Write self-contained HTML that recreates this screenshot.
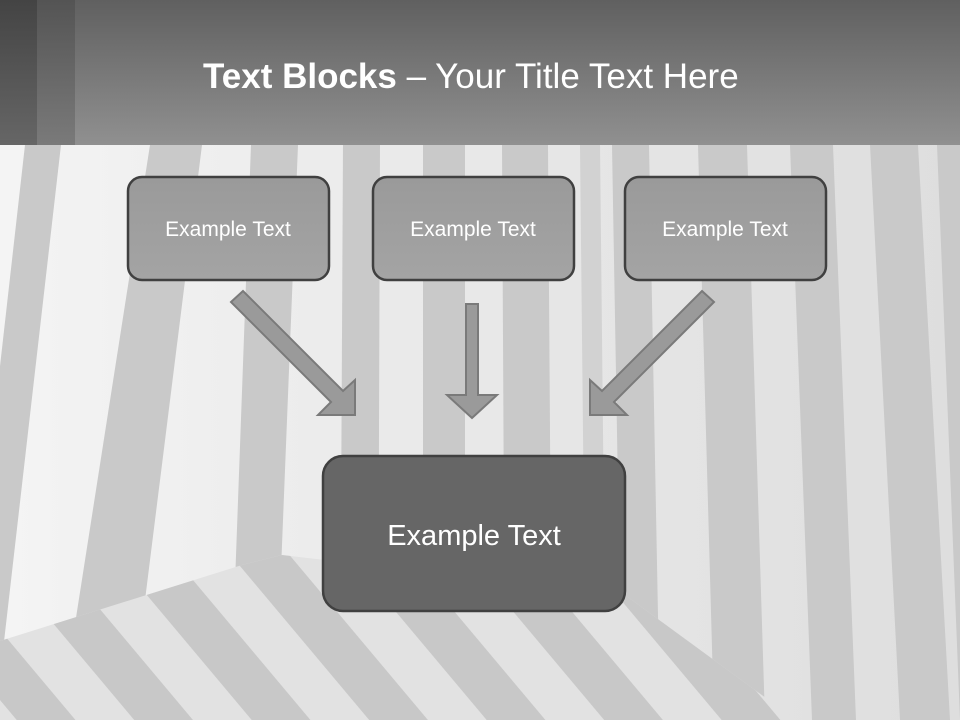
<!DOCTYPE html>
<html><head><meta charset="utf-8"><style>
html,body{margin:0;padding:0;}
body{width:960px;height:720px;overflow:hidden;position:relative;font-family:"Liberation Sans",sans-serif;}
svg{position:absolute;left:0;top:0;}
</style></head><body>
<svg width="960" height="720" viewBox="0 0 960 720">
<defs>
<linearGradient id="hdr" x1="0" y1="0" x2="0" y2="1"><stop offset="0" stop-color="#606060"/><stop offset="1" stop-color="#909090"/></linearGradient>
<linearGradient id="hd1" x1="0" y1="0" x2="0" y2="1"><stop offset="0" stop-color="#444"/><stop offset="1" stop-color="#666"/></linearGradient>
<linearGradient id="hd2" x1="0" y1="0" x2="0" y2="1"><stop offset="0" stop-color="#545454"/><stop offset="1" stop-color="#7a7a7a"/></linearGradient>
<linearGradient id="wall" x1="0" y1="0" x2="1" y2="0"><stop offset="0" stop-color="#f4f4f4"/><stop offset="0.5" stop-color="#e8e8e8"/><stop offset="1" stop-color="#dedede"/></linearGradient>
<linearGradient id="box" x1="0" y1="0" x2="0" y2="1"><stop offset="0" stop-color="#9a9a9a"/><stop offset="1" stop-color="#a4a4a4"/></linearGradient>
<clipPath id="floor"><polygon points="0,641 242,565 282,555 625,595 796,720 0,720"/></clipPath>
<pattern id="fs" width="90" height="90" patternUnits="userSpaceOnUse" patternTransform="rotate(-40)"><rect width="45" height="90" fill="#c8c8c8"/></pattern>
</defs>
<rect width="960" height="720" fill="url(#wall)"/>
<g fill="#c9c9c9">
<polygon points="25,145 61,145 -5,720 -40,720"/>
<polygon points="150,145 202,145 130,720 60,720"/>
<polygon points="251,145 298,145 275,720 230,720"/>
<polygon points="343,145 380,145 378,720 340,720"/>
<polygon points="423,145 465,145 465,720 423,720"/>
<polygon points="502,145 548,145 552,720 505,720"/>
<polygon points="580,145 600,145 606,720 586,720" fill="#d2d2d2"/>
<polygon points="612,145 649,145 660,720 622,720"/>
<polygon points="698,145 747,145 765,720 714,720"/>
<polygon points="790,145 833,145 856,720 812,720"/>
<polygon points="870,145 918,145 950,720 900,720"/>
<polygon points="937,145 960,145 960,720 960,720"/>
</g>
<g clip-path="url(#floor)">
<rect x="0" y="540" width="800" height="180" fill="#e2e2e2"/>
<rect x="0" y="540" width="800" height="180" fill="url(#fs)"/>
</g>
<rect x="0" y="0" width="960" height="145" fill="url(#hdr)"/>
<rect x="0" y="0" width="37" height="145" fill="url(#hd1)"/>
<rect x="37" y="0" width="38" height="145" fill="url(#hd2)"/>
<text x="203" y="88" fill="#fff" font-size="35" font-family="Liberation Sans, sans-serif"><tspan font-weight="bold">Text Blocks</tspan> – Your Title Text Here</text>

<g stroke="#404040" stroke-width="2.5">
<rect x="128" y="177" width="201" height="103" rx="14" fill="url(#box)"/>
<rect x="373" y="177" width="201" height="103" rx="14" fill="url(#box)"/>
<rect x="625" y="177" width="201" height="103" rx="14" fill="url(#box)"/>
<rect x="323" y="456" width="302" height="155" rx="20" fill="#666"/>
</g>
<g fill="#fff" font-size="21" text-anchor="middle">
<text x="228" y="236">Example Text</text>
<text x="473" y="236">Example Text</text>
<text x="725" y="236">Example Text</text>
<text x="474" y="545" font-size="29">Example Text</text>
</g>
<g fill="#9a9a9a" stroke="#7a7a7a" stroke-width="2">
<polygon points="231,302 243,291 343,391 355,380 355,415 318,415 331,402"/>
<polygon points="714,302 702,291 602,391 590,380 590,415 627,415 614,402"/>
<polygon points="466,304 478,304 478,395 497,395 472,418 447,395 466,395"/>
</g>
</svg>
</body></html>
